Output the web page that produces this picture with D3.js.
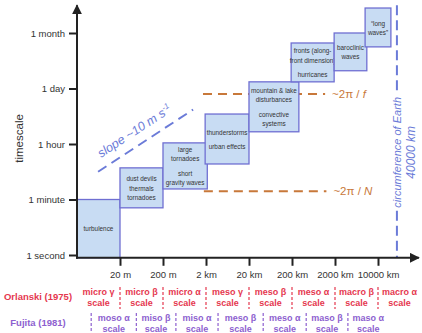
<!DOCTYPE html>
<html>
<head>
<meta charset="utf-8">
<script src="https://cdn.jsdelivr.net/npm/d3@7"></script>
<style>
	body { margin: 0; background: #fff; }
	svg text { font-family: "Liberation Sans", Arial, sans-serif; }
	.axis text { font-size: 9.5px; fill: #333; }
	.axis line { stroke: #222; stroke-width: 2; }
	.box-text { font-size: 8px; fill: #333; }
	.row-text { font-size: 9px; font-weight: bold; }
</style>
</head>
<body>
<div id="chart"></div>
<script>
// values; positions along axes are in "tick index" units
let timeLabels		= ["1 second", "1 minute", "1 hour", "1 day", "1 month"];
let lengthLabels	= ["20 m", "200 m", "2 km", "20 km", "200 km", "2000 km", "10000 km"];
let lengthTicks		= [1, 2, 3, 4, 5, 6, 7];

let boxLines = [
	["turbulence"],
	["dust devils", "thermals", "tornadoes"],
	["large", "tornadoes", "", "short", "gravity waves"],
	["thunderstorms", "", "urban effects"],
	["mountain & lake", "disturbances", "", "convective", "systems"],
	["fronts (along-", "front dimension)", "", "hurricanes"],
	["baroclinic", "waves"],
	["\u201clong", "waves\u201d"]
];
let boxFrom		= [0, 1, 2, 2.98, 4, 4.98, 5.98, 6.7];
let boxTo		= [1, 2, 3.03, 4, 5.16, 5.98, 6.74, 7.3];
let boxLow		= [-0.05, 0.85, 1.19, 1.64, 2.22, 3.12, 3.32, 3.75];
let boxHigh		= [1, 1.57, 2.02, 2.54, 3.12, 3.82, 4.0, 4.45];

let slopeLine	= [[0.49, 1.5], [2.7, 2.62]];
let fLine		= { level: 2.9, from: 2.93, to: 5.77 };
let nLine		= { level: 1.15, from: 2.95, to: 5.8 };
let earthX		= 7.44;

let orlanskiNames	= ["micro \u03b3", "micro \u03b2", "micro \u03b1", "meso \u03b3", "meso \u03b2", "meso \u03b1", "macro \u03b2", "macro \u03b1"];
let orlanskiEdges	= [0, 1, 2, 3, 4, 5, 6, 7, 8];
let fujitaNames		= ["moso \u03b1", "miso \u03b2", "miso \u03b1", "meso \u03b2", "meso \u03b1", "maso \u03b2", "maso \u03b1"];
let fujitaEdges		= [0.33, 1.38, 2.3, 3.28, 4.33, 5.33, 6.3, 7.25];

let red		= "#e5384f";
let purple	= "#8d5fcf";
let blue	= "#6b7bd8";
let brown	= "#c8783a";

let canvasWidth		= 422;
let canvasHeight	= 333;

let x	= d3.scaleLinear().domain([0, 7]).range([77, 378]);
let y	= d3.scaleLinear().domain([0, 4]).range([255, 33]);
let axisY = y(-0.05);

let svg = d3.select("#chart").append("svg")
	.attr("width", canvasWidth)
	.attr("height", canvasHeight);

let defs = svg.append("defs");
defs.append("marker")
	.attr("id", "arrow")
	.attr("viewBox", "0 0 10 10")
	.attr("refX", 9).attr("refY", 5)
	.attr("markerWidth", 5).attr("markerHeight", 5)
	.attr("orient", "auto")
	.append("path")
		.attr("d", "M0,0 L10,5 L0,10 Z")
		.attr("fill", "#222");

// dashed reference lines (under the boxes)
let dashed = svg.append("g").attr("id", "ref-lines");
[fLine, nLine].forEach((o) => {
	dashed.append("line")
		.attr("x1", x(o.from)).attr("x2", x(o.to))
		.attr("y1", y(o.level)).attr("y2", y(o.level))
		.attr("stroke", brown)
		.attr("stroke-width", 2)
		.attr("stroke-dasharray", "9,6");
});
dashed.append("text")
	.attr("x", x(fLine.to) + 7).attr("y", y(fLine.level))
	.attr("dy", "0.35em")
	.attr("fill", brown).style("font-size", "11.5px")
	.html("~2\u03c0 / <tspan font-style='italic'>f</tspan>");
dashed.append("text")
	.attr("x", x(nLine.to) + 7).attr("y", y(nLine.level))
	.attr("dy", "0.35em")
	.attr("fill", brown).style("font-size", "11.5px")
	.html("~2\u03c0 / <tspan font-style='italic'>N</tspan>");

let sx0 = x(slopeLine[0][0]), sy0 = y(slopeLine[0][1]);
let sx1 = x(slopeLine[1][0]), sy1 = y(slopeLine[1][1]);
dashed.append("line")
	.attr("x1", sx0).attr("y1", sy0)
	.attr("x2", sx1).attr("y2", sy1)
	.attr("stroke", blue)
	.attr("stroke-width", 2)
	.attr("stroke-dasharray", "10,6");

// label runs parallel to the slope line, a little above it
let len		= Math.hypot(sx1 - sx0, sy1 - sy0);
let ux		= (sx1 - sx0) / len, uy = (sy1 - sy0) / len;
let along	= 10, off = 10;
let tx		= sx0 + ux * along + uy * off;
let ty		= sy0 + uy * along - ux * off;
dashed.append("text")
	.attr("transform", "translate(" + tx + "," + ty + ") rotate(" + (Math.atan2(uy, ux) * 180 / Math.PI) + ")")
	.attr("fill", blue)
	.style("font-size", "12.5px").style("font-style", "italic")
	.html("slope ~10 m s<tspan dy='-5' font-size='8px'>-1</tspan>");

// circumference of Earth
let earth = svg.append("g").attr("id", "earth");
let earthMid = y(1.85);
let earthLabel = earth.append("text")
	.attr("transform", "translate(" + x(earthX) + "," + earthMid + ") rotate(-90)")
	.attr("text-anchor", "middle")
	.attr("dy", "0.35em")
	.attr("fill", blue)
	.style("font-size", "11px").style("font-style", "italic")
	.text("circumference of Earth");
earth.append("text")
	.attr("transform", "translate(" + (x(earthX) + 14) + "," + earthMid + ") rotate(-90)")
	.attr("text-anchor", "middle")
	.attr("dy", "0.35em")
	.attr("fill", blue)
	.style("font-size", "12px").style("font-style", "italic")
	.text("40000 km");
let half = earthLabel.node().getComputedTextLength() / 2 + 3;
[[y(4.5), earthMid - half], [earthMid + half, axisY]].forEach((o) => {
	earth.append("line")
		.attr("x1", x(earthX)).attr("x2", x(earthX))
		.attr("y1", o[0]).attr("y2", o[1])
		.attr("stroke", blue)
		.attr("stroke-width", 2)
		.attr("stroke-dasharray", "10,5");
});

// phenomena boxes
let boxes = svg.append("g").attr("id", "box-wrapper")
	.selectAll("g")
	.data(boxLines)
	.enter().append("g");

boxes.append("rect")
	.attr("x", (o, i) => (x(boxFrom[i])))
	.attr("y", (o, i) => (y(boxHigh[i])))
	.attr("width", (o, i) => (x(boxTo[i]) - x(boxFrom[i])))
	.attr("height", (o, i) => (y(boxLow[i]) - y(boxHigh[i])))
	.attr("fill", "#c8dcf3")
	.attr("stroke", "#6f6fd2")
	.attr("stroke-width", 1.3);

let lineStep = 9.5, gapStep = 5;
boxes.each(function(lines, i) {
	let offsets = [], pos = 0;
	lines.forEach((l) => {
		if (l === "") { pos += gapStep; }
		else { offsets.push([l, pos]); pos += lineStep; }
	});
	let total	= pos - lineStep;
	let cx		= (x(boxFrom[i]) + x(boxTo[i])) / 2;
	let cy		= (y(boxLow[i]) + y(boxHigh[i])) / 2;
	// squeeze horizontally to get the condensed look
	d3.select(this).selectAll("text")
		.data(offsets)
		.enter().append("text")
			.attr("class", "box-text")
			.attr("transform", (o) => ("translate(" + cx + "," + (cy - total / 2 + o[1]) + ") scale(0.8,1)"))
			.attr("dy", "0.35em")
			.attr("text-anchor", "middle")
			.text((o) => (o[0]));
});

// axes
let yAxis = svg.append("g")
	.attr("class", "axis")
	.attr("transform", "translate(" + x(0) + ",0)")
	.call(d3.axisLeft(y).tickValues([0, 1, 2, 3, 4]).tickFormat((o) => (timeLabels[o])).tickSize(8).tickPadding(4));
yAxis.select(".domain").remove();

let xAxis = svg.append("g")
	.attr("class", "axis")
	.attr("transform", "translate(0," + axisY + ")")
	.call(d3.axisBottom(x).tickValues(lengthTicks).tickFormat((o) => (lengthLabels[o - 1])).tickSize(8).tickPadding(5));
xAxis.select(".domain").remove();

svg.append("line")
	.attr("x1", x(0)).attr("x2", x(0))
	.attr("y1", axisY + 1).attr("y2", y(4.5))
	.attr("stroke", "#222").attr("stroke-width", 2)
	.attr("marker-end", "url(#arrow)");
svg.append("line")
	.attr("x1", x(0) - 1).attr("x2", x(7.95))
	.attr("y1", axisY).attr("y2", axisY)
	.attr("stroke", "#222").attr("stroke-width", 2)
	.attr("marker-end", "url(#arrow)");

svg.append("text")
	.attr("transform", "translate(19," + y(2.1) + ") rotate(-90)")
	.attr("text-anchor", "middle")
	.attr("dy", "0.35em")
	.attr("fill", "#333")
	.style("font-size", "11.5px")
	.text("timescale");

// scale classification rows
function drawRow(names, edges, color, top, title, sepFrom, sepTo) {
	let row = svg.append("g").attr("fill", color);
	row.append("text")
		.attr("class", "row-text")
		.attr("x", 38).attr("y", top + 5)
		.attr("dy", "0.35em")
		.attr("text-anchor", "middle")
		.style("font-size", "9.5px")
		.text(title);
	names.forEach((n, i) => {
		let cx = x((edges[i] + edges[i + 1]) / 2);
		row.append("text")
			.attr("class", "row-text")
			.attr("x", cx).attr("y", top)
			.attr("dy", "0.35em")
			.attr("text-anchor", "middle")
			.text(n);
		row.append("text")
			.attr("class", "row-text")
			.attr("x", cx).attr("y", top + 10.5)
			.attr("dy", "0.35em")
			.attr("text-anchor", "middle")
			.text("scale");
	});
	row.selectAll("line")
		.data(edges.slice(sepFrom, sepTo))
		.enter().append("line")
			.attr("x1", (o) => (x(o))).attr("x2", (o) => (x(o)))
			.attr("y1", top - 5).attr("y2", top + 17)
			.attr("stroke", color)
			.attr("stroke-width", 1.2)
			.attr("stroke-dasharray", "3,2");
}

drawRow(orlanskiNames, orlanskiEdges, red, 292, "Orlanski (1975)", 1, 8);
drawRow(fujitaNames, fujitaEdges, purple, 318, "Fujita (1981)", 0, 7);
</script>
</body>
</html>
